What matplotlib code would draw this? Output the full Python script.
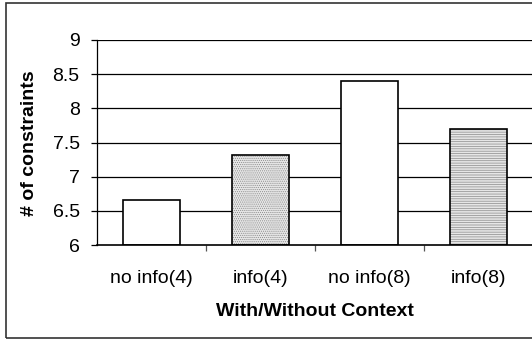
import numpy as np
import matplotlib.pyplot as plt
from matplotlib.patches import Rectangle

# dati
categories = ["no info(4)", "info(4)", "no info(8)", "info(8)"]
values = [6.66, 7.32, 8.40, 7.70]
hatches = [None, "........", None, "-------"]
y_ticks = [6, 6.5, 7, 7.5, 8, 8.5, 9]

plt.rcParams["font.family"] = ["Liberation Sans", "DejaVu Sans"]
plt.rcParams["hatch.linewidth"] = 0.5

fig = plt.figure(figsize=(5.32, 3.39), dpi=100)
ax = fig.add_axes([97 / 532, 1 - 245 / 339, 436 / 532, 205 / 339])

x = np.arange(len(categories))
w = 0.53

# griglia
for t in y_ticks[1:]:
    ax.axhline(t, color="black", lw=0.9, zorder=1)

# riempimento (hatch grigio) poi contorno nero
for xi, v, h in zip(x, values, hatches):
    if h is None:
        ax.bar(xi, v - 6, bottom=6, width=w, color="white", lw=0, zorder=2)
    else:
        ax.bar(xi, v - 6, bottom=6, width=w, color="#e6e6e6", edgecolor="#8a8a8a",
               hatch=h, lw=0, zorder=2)
    ax.bar(xi, v - 6, bottom=6, width=w, fill=False, edgecolor="black", lw=1.2, zorder=3)

ax.set_xlim(-0.5, 3.5)
ax.set_ylim(6, 9)
ax.set_yticks(y_ticks)
ax.set_yticklabels([f"{t:g}" for t in y_ticks])
ax.set_xticks(x)
ax.set_xticklabels(categories)
ax.set_xticks([0.5, 1.5, 2.5], minor=True)

ax.tick_params(axis="y", direction="out", length=4.5, width=0.9, pad=8, labelsize=14)
ax.tick_params(axis="x", which="major", length=0, pad=18, labelsize=14)
ax.tick_params(axis="x", which="minor", direction="out", length=4.5, width=0.9, color="#555555")

for s in ["top", "right"]:
    ax.spines[s].set_visible(False)
ax.spines["left"].set_linewidth(0.9)
ax.spines["bottom"].set_linewidth(1.2)

fig.text(315 / 532, 1 - 312 / 339, "With/Without Context", ha="center", va="center",
         fontsize=14, fontweight="bold")
fig.text(30 / 532, 1 - 143 / 339, "# of constraints", ha="center", va="center",
         rotation=90, fontsize=14, fontweight="bold")

# bordo della figura
fig.patches.append(Rectangle((6 / 532, 1 - 338 / 339), 1.2, (338 - 3) / 339,
                             transform=fig.transFigure, fill=False,
                             edgecolor="#333333", lw=1.2))

fig.savefig("out.png", dpi=100)
